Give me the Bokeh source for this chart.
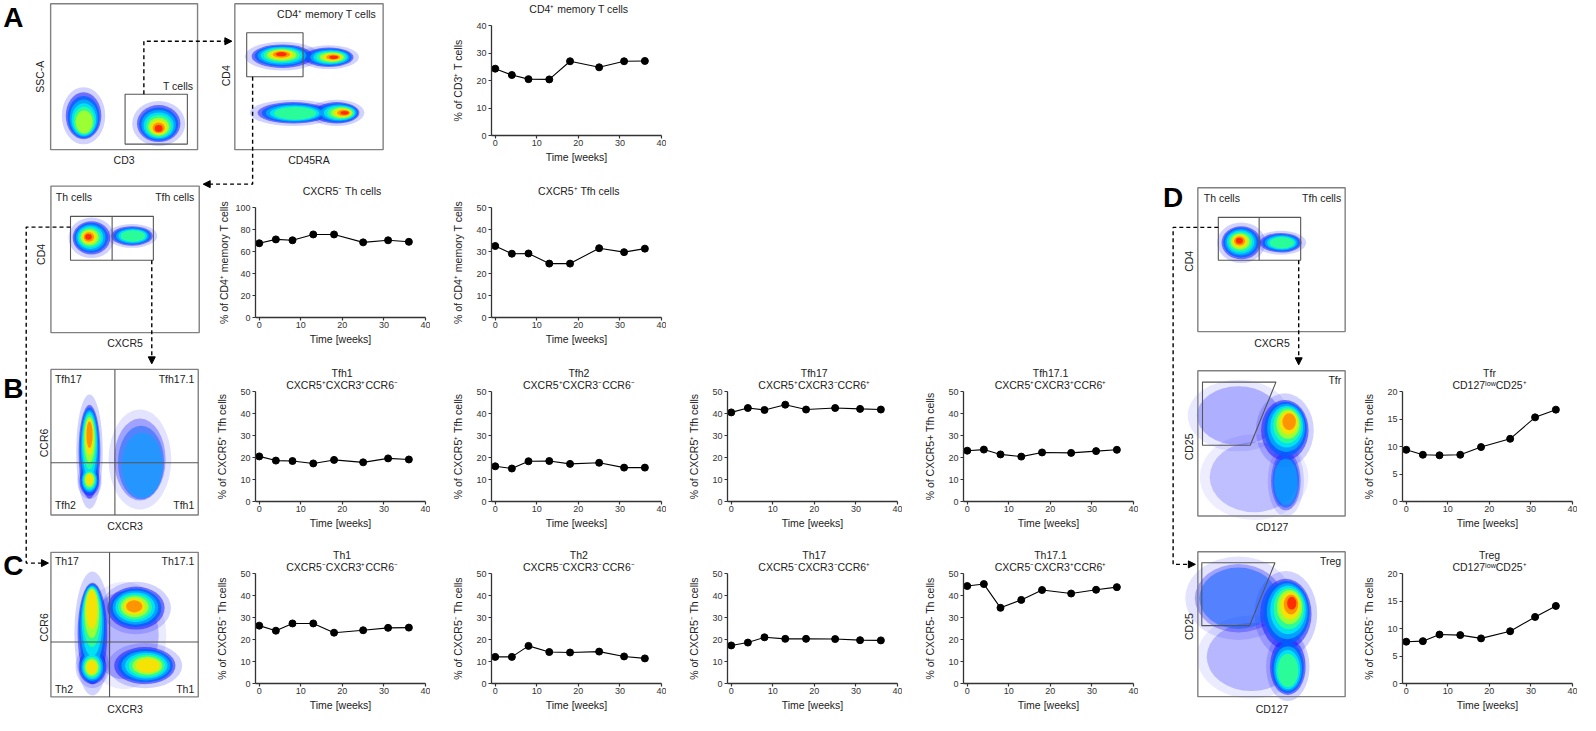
import math
from bokeh.plotting import figure
from bokeh.models import GridBox, Range1d, Arrow, NormalHead, FixedTicker, ColumnDataSource
from bokeh.embed import file_html
from bokeh.resources import INLINE
from bokeh.core.properties import value

FONT = "Liberation Sans"
INK = "#222222"
AXIS = "#333333"

# ---------------- time-course data ----------------
weeks = [0, 4, 8, 13, 18, 25, 31, 36]
cd4_memory = [24.3, 22.0, 20.5, 20.4, 27.0, 24.8, 27.0, 27.1]
cxcr5_neg_th = [67.5, 71.0, 70.2, 75.5, 75.5, 68.3, 70.2, 68.8]
cxcr5_pos_tfh = [32.5, 29.0, 29.1, 24.5, 24.5, 31.5, 29.7, 31.3]
tfh1 = [20.5, 18.6, 18.4, 17.3, 18.9, 17.8, 19.6, 19.1]
tfh2 = [16.0, 15.0, 18.3, 18.4, 17.1, 17.6, 15.4, 15.4]
tfh17 = [40.5, 42.5, 41.6, 44.0, 41.8, 42.5, 42.1, 41.8]
tfh17_1 = [23.1, 23.6, 21.4, 20.4, 22.3, 22.1, 22.9, 23.5]
th1 = [26.3, 24.0, 27.3, 27.3, 23.1, 24.2, 25.3, 25.4]
th2 = [12.1, 12.1, 17.1, 14.3, 14.1, 14.5, 12.3, 11.4]
th17 = [17.3, 18.6, 21.0, 20.3, 20.3, 20.2, 19.7, 19.6]
th17_1 = [44.3, 45.2, 34.4, 38.0, 42.5, 40.9, 42.6, 43.8]
tfr = [9.4, 8.5, 8.4, 8.5, 9.9, 11.4, 15.3, 16.7]
treg = [7.6, 7.7, 8.9, 8.8, 8.2, 9.5, 12.1, 14.1]
x_ticks = [0, 10, 20, 30, 40]

chart_titles = [
    ["CD4⁺ memory T cells"],
    ["CXCR5⁻ Th cells"],
    ["CXCR5⁺ Tfh cells"],
    ["Tfh1", "CXCR5⁺CXCR3⁺CCR6⁻"],
    ["Tfh2", "CXCR5⁺CXCR3⁻CCR6⁻"],
    ["Tfh17", "CXCR5⁺CXCR3⁻CCR6⁺"],
    ["Tfh17.1", "CXCR5⁺CXCR3⁺CCR6⁺"],
    ["Th1", "CXCR5⁻CXCR3⁺CCR6⁻"],
    ["Th2", "CXCR5⁻CXCR3⁻CCR6⁻"],
    ["Th17", "CXCR5⁻CXCR3⁻CCR6⁺"],
    ["Th17.1", "CXCR5⁻CXCR3⁺CCR6⁺"],
    ["Tfr", "CD127ˡᵒʷCD25⁺"],
    ["Treg", "CD127ˡᵒʷCD25⁺"],
]
chart_ylabels = [
    "% of CD3⁺ T cells", "% of CD4⁺ memory T cells", "% of CD4⁺ memory T cells",
    "% of CXCR5⁺ Tfh cells", "% of CXCR5⁺ Tfh cells", "% of CXCR5⁺ Tfh cells", "% of CXCR5+ Tfh cells",
    "% of CXCR5⁻ Th cells", "% of CXCR5⁻ Th cells", "% of CXCR5⁻ Th cells", "% of CXCR5- Th cells",
    "% of CXCR5⁺ Tfh cells", "% of CXCR5⁻ Th cells",
]
chart_values = [cd4_memory, cxcr5_neg_th, cxcr5_pos_tfh, tfh1, tfh2, tfh17, tfh17_1,
                th1, th2, th17, th17_1, tfr, treg]
chart_ymax = [40, 100, 50, 50, 50, 50, 50, 50, 50, 50, 50, 20, 20]
chart_ystep = [10, 20, 10, 10, 10, 10, 10, 10, 10, 10, 10, 5, 5]

# ---------------- flow cytometry panels (reference pixel frame) ----------------
flow_box_left = [50.7, 237, 51, 51, 51, 1211, 1211, 1211]
flow_box_right = [199.3, 387, 201, 200, 200, 1360, 1360, 1360]
flow_box_top = [3.3, 3.3, 190, 377.7, 565, 191.7, 379, 564.3]
flow_box_bottom = [152.7, 152.7, 340, 526.7, 713, 339, 527.7, 712.7]

gate_left = [126, 249, 70.8, 1231.7]
gate_right = [189, 306, 154.6, 1315]
gate_top = [96, 33, 221, 222]
gate_bottom = [147, 78, 266, 266]

gate_line_xs = [[112.9, 112.9], [1273, 1273], [115.7, 115.7], [51, 200], [110.3, 110.3], [51, 200]]
gate_line_ys = [[221, 266], [222, 266], [377.7, 526.7], [473.3, 473.3], [565, 713], [656.7, 656.7]]

gate_poly_xs = [[1215.7, 1290, 1264, 1215.7], [1215, 1289, 1263.3, 1215]]
gate_poly_ys = [[390.7, 390.7, 455.3, 455.3], [575.7, 575.7, 640, 640]]

# cell populations: outer centre, outer size, density-core centre, peak level, fade
pop_cx = [84, 160, 285, 332, 296, 340, 92, 133, 90, 90, 141, 93, 93, 137, 146, 125,
          1255, 1295, 1252, 1268, 1299, 1300, 1252, 1265, 1300, 1302]
pop_cy = [118, 126, 57, 58, 115, 115, 243, 241, 462, 492, 470, 648, 682, 622, 681, 650,
          248, 248, 425, 488, 440, 492, 612, 672, 628, 682]
pop_w = [36, 44, 62, 50, 72, 46, 38, 42, 22, 20, 52, 30, 28, 58, 62, 70,
         40, 42, 84, 90, 48, 30, 88, 90, 52, 36]
pop_h = [48, 38, 24, 20, 22, 22, 34, 20, 96, 30, 84, 104, 36, 44, 38, 90,
         34, 20, 60, 72, 62, 60, 70, 70, 72, 58]
pop_kx = [85, 160, 284, 337, 300, 348, 89, 135, 90, 90, 150, 92, 92, 135, 150, 125,
          1253, 1297, 1252, 1268, 1304, 1300, 1252, 1265, 1306, 1302]
pop_ky = [128, 131, 55, 58, 116, 115, 242, 241, 442, 490, 494, 615, 683, 620, 681, 650,
          246, 248, 425, 488, 430, 495, 612, 672, 617, 690]
pop_peak = [5, 8, 8, 8, 4, 8, 8, 4, 7, 6, 2, 6, 6, 7, 6, 0,
            8, 4, 0, 0, 7, 2, 1, 0, 8, 4]
pop_fade = [1, 1, 1, 1, 1, 1, 1, 1, 1, 1, 0.6, 1, 1, 1, 1, 0.45,
            1, 1, 0.5, 0.4, 1, 0.7, 0.6, 0.45, 1, 1]

flow_text = ["SSC-A", "CD3", "T cells", "CD4", "CD45RA", "CD4⁺ memory T cells",
             "Th cells", "Tfh cells", "CD4", "CXCR5",
             "Tfh17", "Tfh17.1", "Tfh2", "Tfh1", "CCR6", "CXCR3",
             "Th17", "Th17.1", "Th2", "Th1", "CCR6", "CXCR3",
             "Th cells", "Tfh cells", "CD4", "CXCR5",
             "Tfr", "CD25", "CD127", "Treg", "CD25", "CD127"]
flow_text_x = [40, 125, 195, 228, 312, 380,
               56, 196, 41, 126,
               55, 196, 55, 196, 44, 126,
               55, 196, 55, 196, 44, 126,
               1217, 1356, 1202, 1286,
               1356, 1202, 1286, 1356, 1202, 1286]
flow_text_y = [78, 163, 88, 77, 163, 13.5,
               201, 201, 260, 351,
               388, 388, 517, 517, 453, 538,
               574, 574, 705, 705, 642, 725,
               202, 202, 267, 351,
               389, 457, 539, 574, 641, 725]
flow_text_align = ["center", "center", "right", "center", "center", "right",
                   "left", "right", "center", "center",
                   "left", "right", "left", "right", "center", "center",
                   "left", "right", "left", "right", "center", "center",
                   "left", "right", "center", "center",
                   "right", "center", "center", "right", "center", "center"]
flow_text_rot = [1, 0, 0, 1, 0, 0,
                 0, 0, 1, 0,
                 0, 0, 0, 0, 1, 0,
                 0, 0, 0, 0, 1, 0,
                 0, 0, 1, 0,
                 0, 1, 0, 0, 1, 0]

panel_letters = ["A", "B", "C", "D"]
letter_x = [13, 13, 13, 1186]
letter_y = [17, 397, 578, 202]

path_xs = [[145, 145, 228], [255, 255, 211], [153, 153], [70.8, 26, 26, 42],
           [1231.7, 1186, 1186, 1202], [1313, 1313]]
path_ys = [[96, 41.7, 41.7], [78, 188, 188], [266, 366], [232, 232, 576, 576],
           [232.3, 232.3, 577.3, 577.3], [266, 367]]
head_x0 = [226, 212, 153, 41, 1201, 1313]
head_y0 = [41.7, 188, 364, 576, 577.3, 365]
head_x1 = [234, 205, 153, 48.5, 1208.5, 1313]
head_y1 = [41.7, 188, 372, 576, 577.3, 373]

# chart frame anchor (y-axis x position, top of y-axis) in the reference pixel frame
chart_ax = [497, 257.5, 497, 257.5, 497, 735, 974, 257.5, 497, 735, 974, 1418, 1418]
chart_ay = [26, 212.3, 212.3, 400, 400, 400, 400, 586.7, 586.7, 586.7, 586.7, 400, 586.7]

# ---------------- geometry ----------------
W, H = 1578, 714
REF_W, REF_H = 1596, 731
SX, SY = W / REF_W, H / REF_H
FW = round(172 * SX)
FH = round(115 * SY)
BL, BR, BT, BB = 56, 5, 8, 28

JET = ["#1a1aff", "#0060ff", "#00a8ff", "#00e8f0", "#30ff90", "#a8ff28", "#ffe000", "#ff8c00", "#ff2000"]
NLEV = 8

# ---------------- background canvas: cytometry plots, arrows and chart titles ----------------
bg = figure(width=W, height=H, x_range=Range1d(0, REF_W), y_range=Range1d(REF_H, 0),
            x_axis_type=None, y_axis_type=None, toolbar_location=None, output_backend="svg",
            min_border=0, outline_line_color=None, title=None)
bg.grid.visible = False

halo = dict(x=[], y=[], w=[], h=[], a=[])
for cx, cy, w, h, f in zip(pop_cx, pop_cy, pop_w, pop_h, pop_fade):
    halo["x"].append(cx); halo["y"].append(cy)
    halo["w"].append(w * 1.22); halo["h"].append(h * 1.22); halo["a"].append(0.22 * f)
bg.ellipse(x="x", y="y", width="w", height="h", fill_color="#3030ff", fill_alpha="a",
           line_color=None, source=ColumnDataSource(halo))
for k in range(NLEV + 1):
    lay = dict(x=[], y=[], w=[], h=[], a=[])
    t = k / NLEV
    s = 1 - 0.82 * t
    for cx, cy, w, h, kx, ky, pk, f in zip(pop_cx, pop_cy, pop_w, pop_h, pop_kx, pop_ky, pop_peak, pop_fade):
        if pk < k:
            continue
        lay["x"].append(cx + (kx - cx) * t)
        lay["y"].append(cy + (ky - cy) * t)
        lay["w"].append(w * s)
        lay["h"].append(h * s)
        lay["a"].append((0.55 if k == 0 else 0.8 if k == 1 else 0.9) * f)
    if lay["x"]:
        bg.ellipse(x="x", y="y", width="w", height="h", fill_color=JET[k], fill_alpha="a",
                   line_color=None, source=ColumnDataSource(lay))

bg.quad(left=flow_box_left, right=flow_box_right, top=flow_box_top, bottom=flow_box_bottom,
        fill_color=None, line_color="#808080", line_width=1.4)
bg.quad(left=gate_left, right=gate_right, top=gate_top, bottom=gate_bottom,
        fill_color=None, line_color="#555555", line_width=1.1)
bg.multi_line(xs=gate_line_xs, ys=gate_line_ys, line_color="#555555", line_width=1.1)
bg.patches(xs=gate_poly_xs, ys=gate_poly_ys, fill_color=None, line_color="#555555", line_width=1.1)

bg.multi_line(xs=path_xs, ys=path_ys, line_color="black", line_width=1.4, line_dash="4 3")
for x0, y0, x1, y1 in zip(head_x0, head_y0, head_x1, head_y1):
    bg.add_layout(Arrow(end=NormalHead(size=7, fill_color="black", line_color="black", line_width=1),
                        x_start=x0, y_start=y0, x_end=x1, y_end=y1, line_alpha=0))

for align in ("left", "center", "right"):
    for rot in (0, 1):
        idx = [i for i in range(len(flow_text)) if flow_text_align[i] == align and flow_text_rot[i] == rot]
        if not idx:
            continue
        bg.text(x=[flow_text_x[i] for i in idx], y=[flow_text_y[i] for i in idx],
                text=[flow_text[i] for i in idx], angle=math.pi / 2 if rot else 0,
                text_font=value(FONT), text_font_size=value("10.5px"), text_color=INK,
                text_align=align, text_baseline="middle")

bg.text(x=letter_x, y=letter_y, text=panel_letters, text_font=value(FONT),
        text_font_size=value("28px"), text_font_style="bold", text_color="black",
        text_align="center", text_baseline="middle")

# chart titles, centred over each chart frame
tt_x, tt_y, tt_text = [], [], []
for titles, ax, ay in zip(chart_titles, chart_ax, chart_ay):
    if len(titles) == 1:
        tt_x.append(ax + 88); tt_y.append(ay - 17.5); tt_text.append(titles[0])
    else:
        tt_x += [ax + 88, ax + 88]
        tt_y += [ay - 19, ay - 6.6]
        tt_text += titles
bg.text(x=tt_x, y=tt_y, text=tt_text, text_font=value(FONT), text_font_size=value("10.5px"),
        text_color=INK, text_align="center", text_baseline="middle")


# ---------------- time-course charts ----------------
def make_chart(ylabel, vals, ymax, ystep):
    p = figure(frame_width=FW, frame_height=FH, x_range=Range1d(-0.9, 40), y_range=Range1d(0, ymax),
               min_border_left=BL, min_border_right=BR, min_border_top=BT, min_border_bottom=BB,
               toolbar_location=None, output_backend="svg", title=None,
               background_fill_color=None, border_fill_color=None, outline_line_color=None)
    p.grid.visible = False
    p.xaxis.ticker = FixedTicker(ticks=x_ticks)
    p.yaxis.ticker = FixedTicker(ticks=list(range(0, ymax + 1, ystep)))
    for axis in (p.xaxis, p.yaxis):
        axis.axis_line_color = AXIS
        axis.axis_line_width = 1.3
        axis.major_tick_line_color = AXIS
        axis.major_tick_line_width = 1.2
        axis.major_tick_in = 0
        axis.major_tick_out = 3
        axis.minor_tick_line_color = None
        axis.major_label_text_font = FONT
        axis.major_label_text_font_size = "9px"
        axis.major_label_text_color = "#333333"
        axis.axis_label_text_font = FONT
        axis.axis_label_text_font_size = "10.5px"
        axis.axis_label_text_font_style = "normal"
        axis.axis_label_text_color = INK
    p.xaxis.axis_label = "Time [weeks]"
    p.xaxis.major_label_standoff = 1
    p.xaxis.axis_label_standoff = 2
    p.yaxis.axis_label = ylabel
    p.yaxis.major_label_standoff = 2
    p.yaxis.axis_label_standoff = 2 if ymax >= 100 else 9
    p.line(weeks, vals, line_color="black", line_width=1.1)
    p.scatter(weeks, vals, size=7, fill_color="black", line_color="black")
    return p


items = [(bg, 0, 0, W, H)]
for i in range(len(chart_values)):
    p = make_chart(chart_ylabels[i], chart_values[i], chart_ymax[i], chart_ystep[i])
    fl = round(chart_ax[i] * SX) - BL
    ft = round(chart_ay[i] * SY) - BT
    items.append((p, fl, ft, BL + FW + BR, BT + FH + BB))

# charts never share an outer grid line with the background canvas, so the grid's
# plot-alignment does not alter the canvas borders
xb = sorted(set([0, W] + [it[1] for it in items] + [it[1] + it[3] for it in items]))
yb = sorted(set([0, H] + [it[2] for it in items] + [it[2] + it[4] for it in items]))
cols = [f"{b - a}px" for a, b in zip(xb, xb[1:])]
rows = [f"{b - a}px" for a, b in zip(yb, yb[1:])]
children = []
for fig, l, t, w, h in items:
    c0, c1 = xb.index(l), xb.index(l + w)
    r0, r1 = yb.index(t), yb.index(t + h)
    children.append((fig, r0, c0, r1 - r0, c1 - c0))

grid = GridBox(children=children, rows=rows, cols=cols, spacing=0,
               styles={"overflow": "hidden", "width": f"{W}px", "height": f"{H}px"})

open("out.html", "w").write(file_html(grid, INLINE))
